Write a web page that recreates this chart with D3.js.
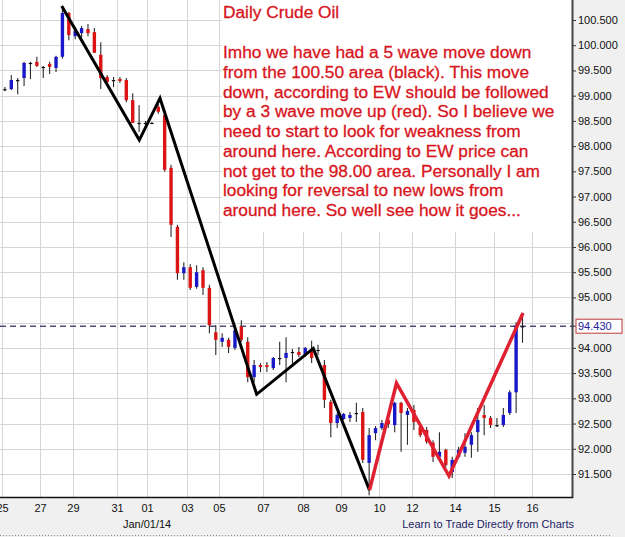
<!DOCTYPE html>
<html>
<head>
<meta charset="utf-8">
<script src="https://cdn.jsdelivr.net/npm/d3@7"></script>
<style>
  html, body { margin: 0; padding: 0; background: #f0f0f0; }
  svg { display: block; }
  text { font-family: "Liberation Sans", Arial, sans-serif; }
</style>
</head>
<body>
<svg id="chart" width="625" height="537"></svg>
<script>
// ---- DATA ----
// 4-hour candles, Dec 26 2013 - Jan 16 2014 (index = candle number)
const opens  = [99.13, 99.13, 99.31, 99.35, 99.65, 99.67, 99.57, 99.63, 99.55, 99.77, 100.64,
  100.18, 100.24, 100.32, 100.26, 99.81, 99.37, 99.31, 99.33, 99.31, 98.91,
  98.46, 98.46, 98.46, 98.78, 98.62, 97.57, 96.40, 95.48, 95.60, 95.21,
  95.54, 95.19, 94.31, 94.12, 94.16, 94.00, 94.43, 94.12, 93.42, 93.66,
  93.66, 93.60, 93.80, 93.80, 93.92, 93.92, 93.86, 93.96, 93.96, 93.66,
  92.93, 92.51, 92.59, 92.61, 92.71, 92.73, 91.72, 92.31, 92.41, 92.57,
  92.47, 92.91, 92.67, 92.77, 92.43, 92.37, 92.12, 91.84, 91.98, 91.54,
  91.84, 91.92, 92.08, 92.33, 92.67, 92.61, 92.47, 92.47, 92.71, 93.12, 94.43];
const highs  = [99.17, 99.41, 99.35, 99.67, 99.67, 99.77, 99.59, 99.67, 99.79, 100.72, 100.66,
  100.30, 100.38, 100.42, 100.34, 100.06, 99.41, 99.37, 99.37, 99.35, 99.05,
  98.81, 98.50, 98.48, 98.83, 98.72, 97.63, 96.44, 95.70, 95.66, 95.64,
  95.60, 95.25, 94.45, 94.29, 94.20, 94.39, 94.55, 94.21, 93.76, 93.70,
  93.72, 93.82, 94.12, 94.21, 93.98, 94.02, 94.02, 94.14, 94.06, 93.76,
  92.97, 92.71, 92.71, 92.73, 92.91, 92.81, 92.41, 92.45, 92.57, 92.61,
  92.93, 92.93, 92.81, 92.87, 92.47, 92.43, 92.17, 92.33, 92.00, 91.84,
  92.04, 92.31, 92.33, 92.81, 92.87, 92.65, 92.61, 92.81, 93.16, 94.51, 94.65];
const lows   = [99.09, 99.11, 99.03, 99.19, 99.33, 99.57, 99.35, 99.43, 99.47, 99.73, 100.10,
  100.12, 100.16, 100.18, 99.85, 99.13, 99.21, 99.17, 99.25, 98.87, 98.46,
  98.28, 98.42, 98.44, 98.64, 97.49, 96.20, 95.35, 95.35, 95.15, 95.17,
  95.05, 94.29, 93.86, 94.02, 93.90, 93.96, 94.12, 93.32, 93.32, 93.52,
  93.52, 93.56, 93.66, 93.32, 93.62, 93.82, 93.82, 93.70, 93.86, 92.81,
  92.23, 92.41, 92.57, 92.53, 92.53, 91.72, 91.08, 92.17, 92.37, 92.41,
  92.33, 91.94, 92.08, 92.37, 92.23, 92.10, 91.74, 91.82, 91.64, 91.42,
  91.80, 91.84, 91.82, 91.94, 92.27, 92.41, 92.43, 92.43, 92.67, 92.71, 94.10];
const closes = [99.13, 99.31, 99.31, 99.65, 99.65, 99.59, 99.57, 99.57, 99.77, 100.64, 100.20,
  100.28, 100.34, 100.24, 99.85, 99.35, 99.27, 99.31, 99.29, 98.91, 98.46,
  98.46, 98.46, 98.46, 98.68, 97.53, 96.44, 95.48, 95.60, 95.19, 95.50,
  95.19, 94.45, 94.16, 94.20, 94.02, 94.35, 94.16, 93.42, 93.66, 93.62,
  93.62, 93.80, 93.80, 93.90, 93.92, 93.86, 94.00, 93.80, 93.96, 92.97,
  92.51, 92.67, 92.69, 92.67, 92.71, 91.78, 92.27, 92.41, 92.51, 92.49,
  92.91, 92.71, 92.75, 92.53, 92.27, 92.14, 91.84, 91.94, 91.68, 91.78,
  91.98, 92.04, 92.27, 92.57, 92.61, 92.47, 92.47, 92.67, 93.12, 94.45, 94.43];
const firstIndex = -1; // first candle is partly cut off at the left edge

// Elliott wave annotations: [candle index, price]
const blackWaveIdx   = [7.89, 20.03, 23.27, 38.40, 47.26, 56.06];
const blackWavePrice = [100.78, 98.12, 98.95, 93.08, 93.99, 91.18];
const redWaveIdx     = [56.06, 60.28, 68.50, 80.08];
const redWavePrice   = [91.18, 93.30, 91.46, 94.69];

const lastPrice = 94.43;

const dayLabels = ["25", "27", "29", "31", "01", "03", "05", "07", "08", "09", "10", "12", "14", "15", "16"];
const dayPos    = [-1.45, 4.5, 9.65, 16.55, 21.25, 27.5, 32.5, 39.4, 45.65, 51.6, 57.55, 62.7, 69.45, 75.55, 81.5];
const monthLabel = "Jan/01/14";
const monthLabelDay = "01";

const priceTicks = d3.range(91.5, 100.5001, 0.5);

const titleText = "Daily Crude Oil";
const noteLines = [
  "Imho we have had a 5 wave move down",
  "from the 100.50 area (black). This move",
  "down, according to EW should be followed",
  "by a 3 wave move up (red). So I believe we",
  "need to start to look for weakness from",
  "around here. According to EW price can",
  "not get to the 98.00 area. Personally I am",
  "looking for reversal to new lows from",
  "around here. So well see how it goes..."
];
const footerText = "Learn to Trade Directly from Charts";

// ---- LAYOUT ----
const W = 625, H = 537;
const plotRight = 572, plotBottom = 497;

const svg = d3.select("#chart");

const x = d3.scaleLinear().domain([0, 80]).range([11.3, 522.5]);
const y = d3.scaleLinear().domain([91.5, 100.5]).range([474, 20]);

svg.append("rect").attr("width", W).attr("height", H).attr("fill", "#f0f0f0");
svg.append("rect").attr("x", 0).attr("y", 0).attr("width", plotRight).attr("height", plotBottom).attr("fill", "#ffffff");

const plot = svg.append("g");
plot.append("clipPath").attr("id", "clip").append("rect")
  .attr("x", 0).attr("y", 0).attr("width", plotRight).attr("height", plotBottom);

// grid
const grid = plot.append("g").attr("clip-path", "url(#clip)");
grid.selectAll("line.h").data(priceTicks).join("line").attr("class", "h")
  .attr("x1", 0).attr("x2", plotRight)
  .attr("y1", d => Math.round(y(d)) + 0.5).attr("y2", d => Math.round(y(d)) + 0.5)
  .attr("stroke", "#d6d6d6").attr("stroke-width", 1);
grid.selectAll("line.v").data(dayPos).join("line").attr("class", "v")
  .attr("x1", d => Math.round(x(d)) + 0.5).attr("x2", d => Math.round(x(d)) + 0.5)
  .attr("y1", 0).attr("y2", plotBottom)
  .attr("stroke", "#d6d6d6").attr("stroke-width", 1);

// note box (covers grid)
svg.append("rect").attr("x", 222).attr("y", 0).attr("width", plotRight - 222).attr("height", 232)
  .attr("fill", "#ffffff");
const note = svg.append("g").attr("fill", "#d8141c").attr("font-size", 17.3)
  .attr("stroke", "#d8141c").attr("stroke-width", 0.3);
note.append("text").attr("x", 223).attr("y", 18).text(titleText);
note.selectAll("text.l").data(noteLines).join("text").attr("class", "l")
  .attr("x", 223).attr("y", (d, i) => 58 + i * 19.75).text(d => d);

// last price dashed line
svg.append("line")
  .attr("x1", 0).attr("x2", plotRight)
  .attr("y1", y(lastPrice)).attr("y2", y(lastPrice))
  .attr("stroke", "#4d4d80").attr("stroke-width", 1.5).attr("stroke-dasharray", "6,4");

// candles
const candles = opens.map((o, k) => ({
  i: k + firstIndex, o, h: highs[k], l: lows[k], c: closes[k]
}));
const cg = svg.append("g").attr("clip-path", "url(#clip)");
const bw = 3.4;
cg.selectAll("line.wick").data(candles).join("line").attr("class", "wick")
  .attr("x1", d => x(d.i)).attr("x2", d => x(d.i))
  .attr("y1", d => y(d.h)).attr("y2", d => y(d.l))
  .attr("stroke", "#2a2a2a").attr("stroke-width", 1.1);
cg.selectAll("rect.body").data(candles).join("rect").attr("class", "body")
  .attr("x", d => x(d.i) - bw / 2)
  .attr("width", bw)
  .attr("y", d => y(Math.max(d.o, d.c)))
  .attr("height", d => Math.max(1.2, Math.abs(y(d.o) - y(d.c))))
  .attr("fill", d => d.c > d.o ? "#1818c8" : (d.c < d.o ? "#dd1414" : "#111111"));

// waves
const line = d3.line().x(d => x(d[0])).y(d => y(d[1]));
svg.append("path")
  .datum(blackWaveIdx.map((v, k) => [v, blackWavePrice[k]]))
  .attr("d", line).attr("fill", "none").attr("stroke", "#000000")
  .attr("stroke-width", 3).attr("stroke-linejoin", "miter");
svg.append("path")
  .datum(redWaveIdx.map((v, k) => [v, redWavePrice[k]]))
  .attr("d", line).attr("fill", "none").attr("stroke", "#de2030")
  .attr("stroke-width", 3.5).attr("stroke-linejoin", "miter");

// right axis (ticks hidden behind the last-price label are skipped)
const visibleTicks = priceTicks.filter(t => Math.abs(y(t) - y(lastPrice)) > 10);
const yAxis = d3.axisRight(y).tickValues(visibleTicks).tickSize(4).tickPadding(2)
  .tickFormat(d3.format(".3f"));
const ya = svg.append("g").attr("transform", `translate(${plotRight},0)`).call(yAxis);
ya.select(".domain").remove();
ya.selectAll(".tick line").attr("stroke", "#333");
ya.selectAll(".tick text").attr("font-size", 11).attr("fill", "#111")
  .attr("font-family", "Liberation Sans, Arial, sans-serif");
svg.append("line").attr("x1", plotRight + 0.5).attr("x2", plotRight + 0.5)
  .attr("y1", 0).attr("y2", plotBottom + 1).attr("stroke", "#444").attr("stroke-width", 2);

// last price label
const lp = svg.append("g");
lp.append("line").attr("x1", plotRight).attr("x2", 576)
  .attr("y1", y(lastPrice)).attr("y2", y(lastPrice)).attr("stroke", "#333");
lp.append("rect").attr("x", 576).attr("y", y(lastPrice) - 7).attr("width", 46).attr("height", 14)
  .attr("fill", "#ffffff").attr("stroke", "#c03a3a").attr("stroke-width", 1);
lp.append("text").attr("x", 578).attr("y", y(lastPrice)).attr("dy", "0.35em")
  .attr("font-size", 11).attr("fill", "#22229a").text(d3.format(".3f")(lastPrice));

// bottom axis
const xAxis = d3.axisBottom(x).tickValues(dayPos).tickSize(0).tickPadding(7)
  .tickFormat((d, k) => dayLabels[k]);
const xa = svg.append("g").attr("transform", `translate(0,${plotBottom})`).call(xAxis);
xa.select(".domain").remove();
xa.selectAll(".tick text").attr("font-size", 11).attr("fill", "#111")
  .attr("font-family", "Liberation Sans, Arial, sans-serif");
svg.append("line").attr("x1", 0).attr("x2", plotRight + 1)
  .attr("y1", plotBottom + 0.5).attr("y2", plotBottom + 0.5)
  .attr("stroke", "#111").attr("stroke-width", 1.5);

svg.append("text").attr("x", x(dayPos[dayLabels.indexOf(monthLabelDay)])).attr("y", 528)
  .attr("text-anchor", "middle").attr("font-size", 11).attr("fill", "#111").text(monthLabel);
svg.append("text").attr("x", 574).attr("y", 528)
  .attr("text-anchor", "end").attr("font-size", 11).attr("fill", "#1c1c66").text(footerText);

svg.append("line").attr("x1", 0).attr("x2", 612).attr("y1", 535.5).attr("y2", 535.5)
  .attr("stroke", "#8a8a8a").attr("stroke-width", 1).attr("stroke-dasharray", "1,2");
</script>
</body>
</html>
